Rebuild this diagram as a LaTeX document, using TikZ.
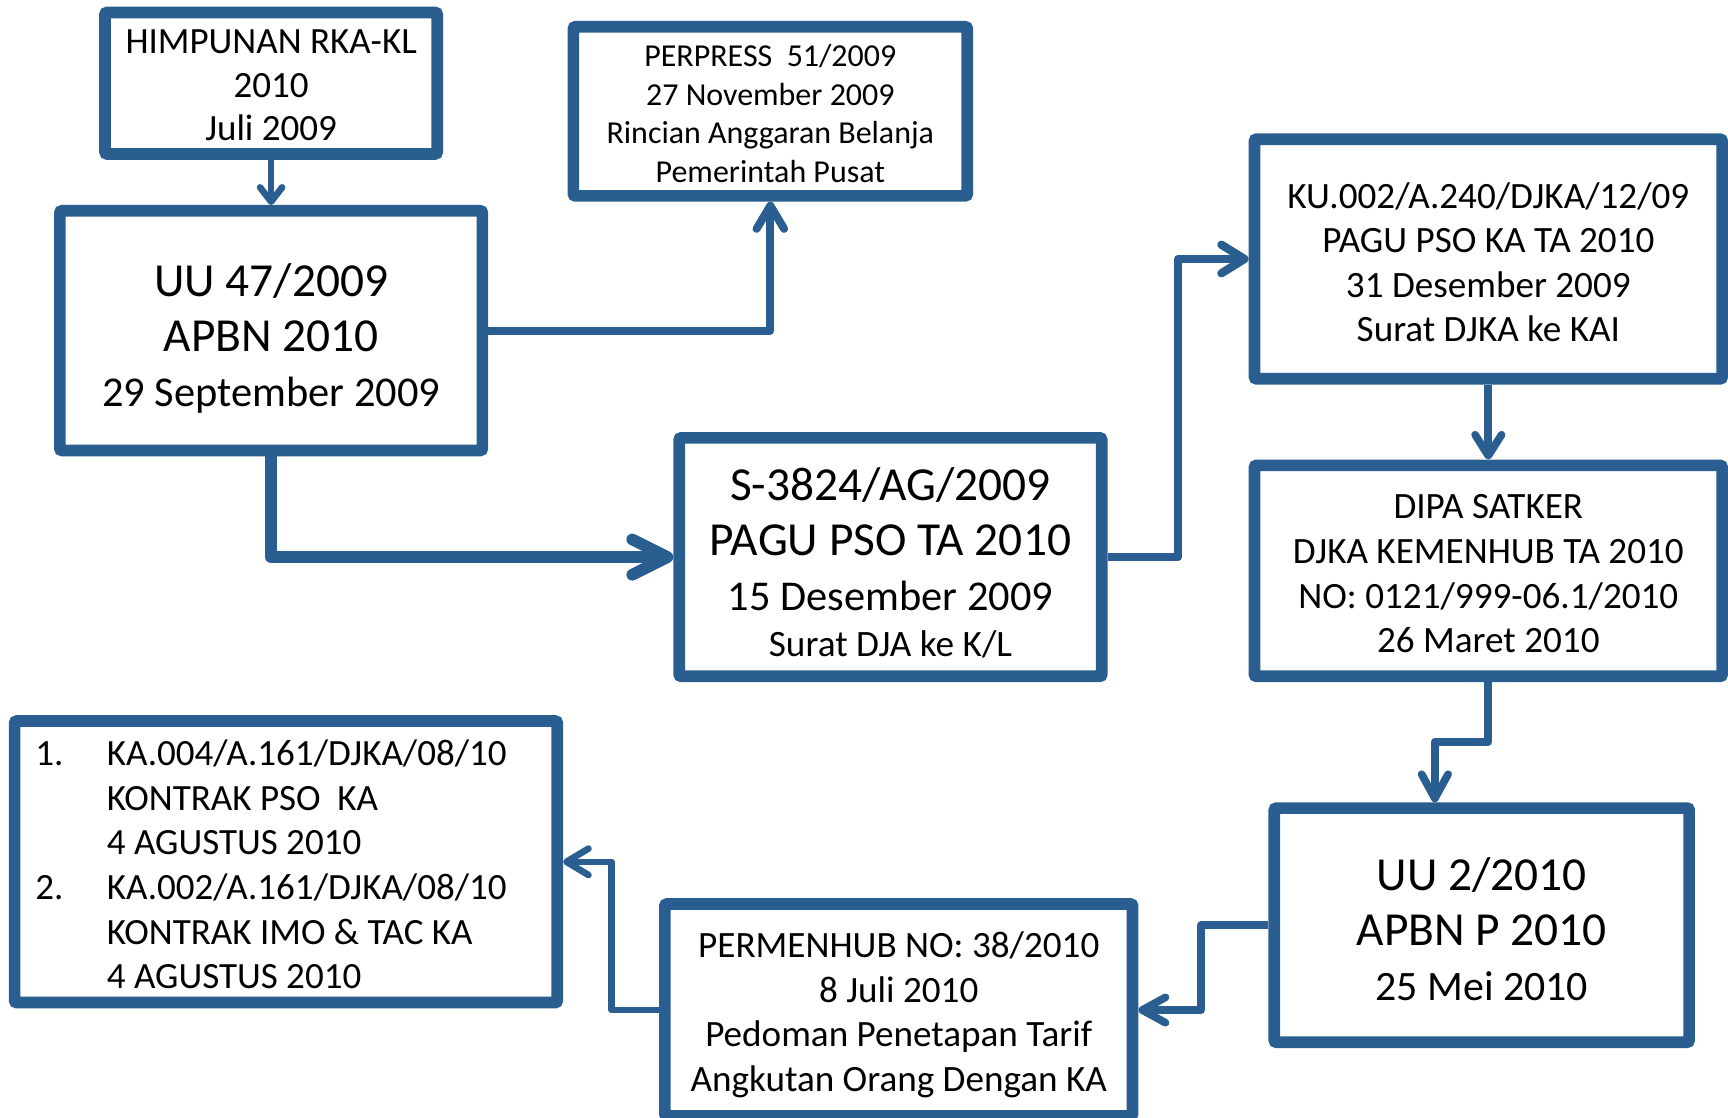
\documentclass[tikz,border=0pt]{standalone}
\usepackage{fontspec}
\setmainfont{Carlito}
\usetikzlibrary{arrows.meta, calc}
\definecolor{psoblue}{HTML}{2A5E91}

\begin{document}
\begin{tikzpicture}[
        x=0.5pt, y=-0.5pt,
        every node/.style={
            draw=psoblue, line width=5.3pt, rounded corners=1pt,
            align=flush center, inner sep=0pt, text height=10pt
        },
        txtmid/.style={font=\fontsize{16.85}{20.2}\selectfont},
        txtbig/.style={font=\fontsize{21.5}{25}\selectfont},
        firstline/.style={text depth=#1}, % places the first baseline in the box
        link/.style n args={3}{draw=psoblue, line width=#1, line join=round,
            -{Straight Barb[length=#2, width=#3, round]}}
      ]
        \useasboundingbox (0,0) rectangle (1568,1014);

        % documents, top row
        \node[font=\fontsize{16.8}{19.75}\selectfont, firstline=36.7pt,
              text width=150.7pt, minimum height=64.2pt] (him) at (246,75.5)
            {HIMPUNAN RKA-KL\\2010\\Juli 2009};
        \node[txtbig, firstline=41.2pt, text width=191.7pt, minimum height=108.7pt] (uu47) at (246,300)
            {UU 47/2009\\APBN 2010\\{\fontsize{19.25}{25}\selectfont 29 September 2009}};
        \node[font=\fontsize{14.5}{17.5}\selectfont, firstline=50.7pt,
              text width=178.7pt, minimum height=76.7pt] (perpres) at (699,101)
            {PERPRESS\ \ 51/2009\\27 November 2009\\Rincian Anggaran Belanja\\Pemerintah Pusat};
        \node[txtbig, firstline=61.7pt, text width=191.7pt, minimum height=108.2pt] (s3824) at (808,505.5)
            {S-3824/AG/2009\\PAGU PSO TA 2010\\{\fontsize{19.25}{25}\selectfont 15 Desember 2009}\\[-4pt]%
             {\fontsize{16.9}{25}\selectfont Surat DJA ke K/L}};
        \node[txtmid, firstline=56.1pt, text width=212.2pt, minimum height=108.7pt] (ku) at (1350.5,235)
            {KU.002/A.240/DJKA/12/09\\PAGU PSO KA TA 2010\\31 Desember 2009\\Surat DJKA ke KAI};
        \node[txtmid, firstline=57.1pt, text width=212.2pt, minimum height=95.7pt] (dipa) at (1350.5,518)
            {DIPA SATKER\\DJKA KEMENHUB TA 2010\\NO: 0121/999-06.1/2010\\26 Maret 2010};

        % documents, bottom row
        \node[txtbig, firstline=41.7pt, text width=188.2pt, minimum height=106.2pt] (uu2) at (1344.5,839.5)
            {UU 2/2010\\APBN P 2010\\{\fontsize{19}{25}\selectfont 25 Mei 2010}};
        \node[txtmid, firstline=57.6pt, text width=212.2pt, minimum height=96.2pt] (permen) at (815.5,916.5)
            {PERMENHUB NO: 38/2010\\8 Juli 2010\\Pedoman Penetapan Tarif\\Angkutan Orang Dengan KA};
        \node[font=\fontsize{16.8}{20.25}\selectfont, align=flush left, text width=227.5pt,
              inner xsep=9.35pt, firstline=97.2pt, minimum height=127.7pt] (kontrak) at (259.5,782)
            {\makebox[32.5pt][l]{1.}KA.004/A.161/DJKA/08/10\\
             \hspace*{32.5pt}KONTRAK PSO\ \ KA\\
             \hspace*{32.5pt}4 AGUSTUS 2010\\
             \makebox[32.5pt][l]{2.}KA.002/A.161/DJKA/08/10\\
             \hspace*{32.5pt}KONTRAK IMO \& TAC KA\\
             \hspace*{32.5pt}4 AGUSTUS 2010};

        % connectors
        \draw[link={3pt}{6.5pt}{10pt}] (him.south) -- (uu47.north);
        \draw[link={3.65pt}{10.5pt}{12.5pt}] (uu47.east) -| (perpres.south);
        \draw[link={5.3pt}{16pt}{16pt}] (uu47.south) |- (s3824.west);
        \draw[link={3.75pt}{10.5pt}{13pt}] (s3824.east) -- ++(64,0) |- (ku.west);
        \draw[link={3.5pt}{9.5pt}{12pt}] (ku.south) -- (dipa.north);
        \draw[link={3.5pt}{11pt}{12pt}] (dipa.south) -- ++(0,54) -| ($(uu2.north)+(-42.5,0)$);
        \draw[link={3.5pt}{10.5pt}{11.5pt}] (uu2.west) -- ++(-61,0) |- (permen.east);
        \draw[link={3pt}{10pt}{12pt}] (permen.west) -- ++(-43,0) |- (kontrak.east);
      \end{tikzpicture}
\end{document}
